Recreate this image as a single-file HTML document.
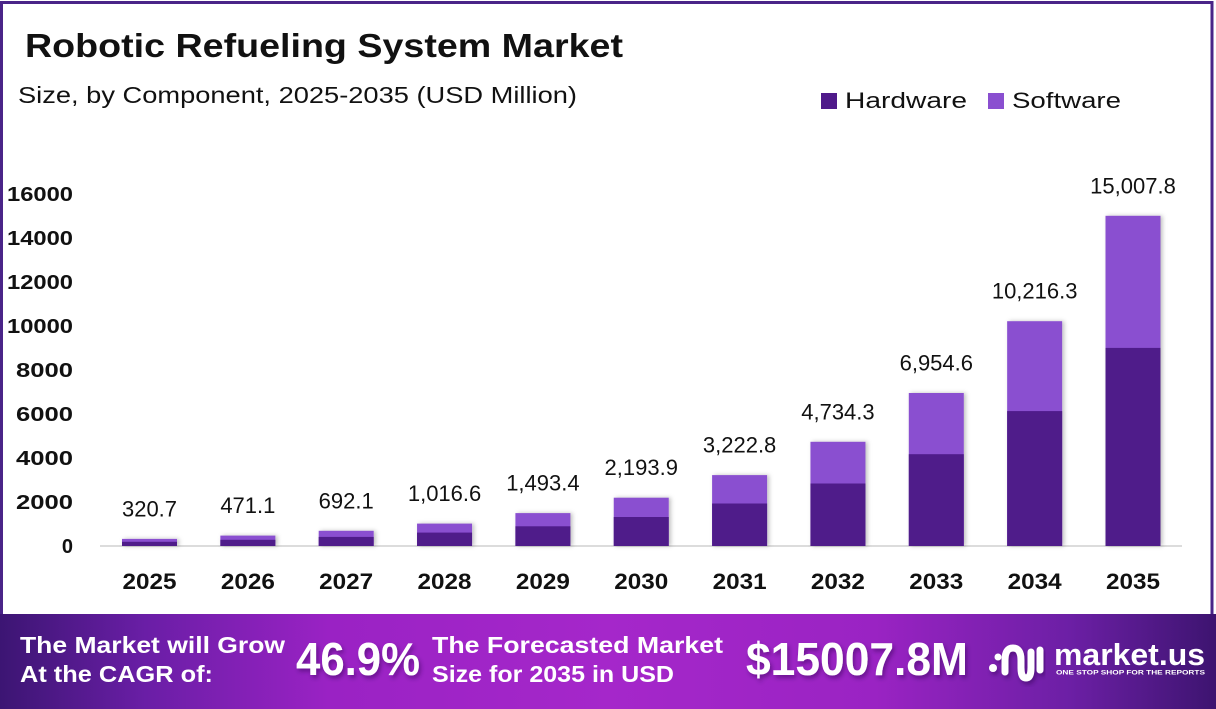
<!DOCTYPE html>
<html>
<head>
<meta charset="utf-8">
<style>
  html,body{margin:0;padding:0;background:#fff;}
  svg{display:block;}
  text{font-family:"Liberation Sans", Arial, sans-serif;}
</style>
</head>
<body>
<svg width="1216" height="709" viewBox="0 0 1216 709" xmlns="http://www.w3.org/2000/svg">
  <defs>
    <linearGradient id="bg" x1="0" y1="0" x2="1" y2="0">
      <stop offset="0" stop-color="#3c1573"/>
      <stop offset="0.12" stop-color="#6a1ea6"/>
      <stop offset="0.27" stop-color="#9a22c4"/>
      <stop offset="0.5" stop-color="#a527ca"/>
      <stop offset="0.72" stop-color="#9a23c3"/>
      <stop offset="0.88" stop-color="#6c1fa5"/>
      <stop offset="1" stop-color="#3d1470"/>
    </linearGradient>
    <filter id="sh" x="-20%" y="-5%" width="140%" height="110%">
      <feDropShadow dx="2" dy="0" stdDeviation="2" flood-color="#000" flood-opacity="0.25"/>
    </filter>
    <filter id="tsh" x="-10%" y="-20%" width="120%" height="150%">
      <feDropShadow dx="2" dy="3" stdDeviation="2" flood-color="#2a0550" flood-opacity="0.45"/>
    </filter>
  </defs>

  <rect x="0" y="0" width="1216" height="709" fill="#fff"/>
  <!-- border -->
  <rect x="1.5" y="2.5" width="1210.5" height="614" fill="none" stroke="#4a2488" stroke-width="3"/>

  <!-- title -->
  <text x="25" y="57" font-size="33" font-weight="bold" fill="#111" textLength="598" lengthAdjust="spacingAndGlyphs">Robotic Refueling System Market</text>
  <text x="18" y="103" font-size="23" fill="#111" textLength="559" lengthAdjust="spacingAndGlyphs">Size, by Component, 2025-2035 (USD Million)</text>

  <!-- legend -->
  <rect x="821" y="93" width="16" height="16" fill="#4f1a8a"/>
  <text x="845" y="108" font-size="22" fill="#111" textLength="122" lengthAdjust="spacingAndGlyphs">Hardware</text>
  <rect x="988" y="93" width="16" height="16" fill="#8a4fd0"/>
  <text x="1012" y="108" font-size="22" fill="#111" textLength="109" lengthAdjust="spacingAndGlyphs">Software</text>

  <!-- y axis labels -->
  <g font-size="20" font-weight="bold" fill="#111" text-anchor="end">
    <text x="73" y="201" textLength="66" lengthAdjust="spacingAndGlyphs">16000</text>
    <text x="73" y="245" textLength="66" lengthAdjust="spacingAndGlyphs">14000</text>
    <text x="73" y="289" textLength="66" lengthAdjust="spacingAndGlyphs">12000</text>
    <text x="73" y="333" textLength="66" lengthAdjust="spacingAndGlyphs">10000</text>
    <text x="73" y="377" textLength="57" lengthAdjust="spacingAndGlyphs">8000</text>
    <text x="73" y="421" textLength="57" lengthAdjust="spacingAndGlyphs">6000</text>
    <text x="73" y="465" textLength="57" lengthAdjust="spacingAndGlyphs">4000</text>
    <text x="73" y="509" textLength="57" lengthAdjust="spacingAndGlyphs">2000</text>
    <text x="73" y="553">0</text>
  </g>

  <!-- axis line -->
  <line x1="100" y1="546" x2="1182" y2="546" stroke="#d0d0d0" stroke-width="1.5"/>

  <!-- bars -->
  <g filter="url(#sh)">
    <rect x="122" y="538.9" width="55" height="7.1" fill="#8a4fd0"/>
    <rect x="122" y="541.8" width="55" height="4.2" fill="#4f1a8a"/>
    <rect x="220.35" y="535.6" width="55" height="10.4" fill="#8a4fd0"/>
    <rect x="220.35" y="539.8" width="55" height="6.2" fill="#4f1a8a"/>
    <rect x="318.7" y="530.8" width="55" height="15.2" fill="#8a4fd0"/>
    <rect x="318.7" y="536.9" width="55" height="9.1" fill="#4f1a8a"/>
    <rect x="417.05" y="523.6" width="55" height="22.4" fill="#8a4fd0"/>
    <rect x="417.05" y="532.6" width="55" height="13.4" fill="#4f1a8a"/>
    <rect x="515.4" y="513.1" width="55" height="32.9" fill="#8a4fd0"/>
    <rect x="515.4" y="526.3" width="55" height="19.7" fill="#4f1a8a"/>
    <rect x="613.75" y="497.7" width="55" height="48.3" fill="#8a4fd0"/>
    <rect x="613.75" y="517.0" width="55" height="29.0" fill="#4f1a8a"/>
    <rect x="712.1" y="475.1" width="55" height="70.9" fill="#8a4fd0"/>
    <rect x="712.1" y="503.5" width="55" height="42.5" fill="#4f1a8a"/>
    <rect x="810.45" y="441.8" width="55" height="104.2" fill="#8a4fd0"/>
    <rect x="810.45" y="483.5" width="55" height="62.5" fill="#4f1a8a"/>
    <rect x="908.8" y="393.0" width="55" height="153.0" fill="#8a4fd0"/>
    <rect x="908.8" y="454.2" width="55" height="91.8" fill="#4f1a8a"/>
    <rect x="1007.15" y="321.2" width="55" height="224.8" fill="#8a4fd0"/>
    <rect x="1007.15" y="411.1" width="55" height="134.9" fill="#4f1a8a"/>
    <rect x="1105.5" y="215.8" width="55" height="330.2" fill="#8a4fd0"/>
    <rect x="1105.5" y="347.9" width="55" height="198.1" fill="#4f1a8a"/>
  </g>

  <!-- value labels -->
  <g font-size="22" fill="#111" text-anchor="middle">
    <text x="149.5" y="516.5">320.7</text>
    <text x="247.85" y="513.1">471.1</text>
    <text x="346.2" y="508.3">692.1</text>
    <text x="444.55" y="501.1">1,016.6</text>
    <text x="542.9" y="490.6">1,493.4</text>
    <text x="641.25" y="475.2">2,193.9</text>
    <text x="739.6" y="452.6">3,222.8</text>
    <text x="837.95" y="419.3">4,734.3</text>
    <text x="936.3" y="370.5">6,954.6</text>
    <text x="1034.65" y="298.7">10,216.3</text>
    <text x="1133" y="193.3">15,007.8</text>
  </g>

  <!-- x labels -->
  <g font-size="22" font-weight="bold" fill="#111" text-anchor="middle">
    <text x="149.5" y="589" textLength="54" lengthAdjust="spacingAndGlyphs">2025</text>
    <text x="247.85" y="589" textLength="54" lengthAdjust="spacingAndGlyphs">2026</text>
    <text x="346.2" y="589" textLength="54" lengthAdjust="spacingAndGlyphs">2027</text>
    <text x="444.55" y="589" textLength="54" lengthAdjust="spacingAndGlyphs">2028</text>
    <text x="542.9" y="589" textLength="54" lengthAdjust="spacingAndGlyphs">2029</text>
    <text x="641.25" y="589" textLength="54" lengthAdjust="spacingAndGlyphs">2030</text>
    <text x="739.6" y="589" textLength="54" lengthAdjust="spacingAndGlyphs">2031</text>
    <text x="837.95" y="589" textLength="54" lengthAdjust="spacingAndGlyphs">2032</text>
    <text x="936.3" y="589" textLength="54" lengthAdjust="spacingAndGlyphs">2033</text>
    <text x="1034.65" y="589" textLength="54" lengthAdjust="spacingAndGlyphs">2034</text>
    <text x="1133" y="589" textLength="54" lengthAdjust="spacingAndGlyphs">2035</text>
  </g>

  <!-- banner -->
  <rect x="0" y="614" width="1216" height="95" fill="url(#bg)"/>
  <g fill="#fff" font-weight="bold">
    <text x="20" y="653" font-size="23" textLength="265" lengthAdjust="spacingAndGlyphs">The Market will Grow</text>
    <text x="20" y="682" font-size="23" textLength="193" lengthAdjust="spacingAndGlyphs">At the CAGR of:</text>
    <text x="296" y="675" font-size="46" textLength="124" lengthAdjust="spacingAndGlyphs" filter="url(#tsh)">46.9%</text>
    <text x="432" y="653" font-size="23" textLength="291" lengthAdjust="spacingAndGlyphs">The Forecasted Market</text>
    <text x="432" y="682" font-size="23" textLength="242" lengthAdjust="spacingAndGlyphs">Size for 2035 in USD</text>
    <text x="746" y="675" font-size="46" textLength="222" lengthAdjust="spacingAndGlyphs" filter="url(#tsh)">$15007.8M</text>
    <!-- logo icon -->
    <g filter="url(#tsh)">
      <circle cx="993" cy="668" r="4" fill="#fff"/>
      <circle cx="998" cy="657" r="3.5" fill="#fff"/>
      <path d="M1005 672 L1005 660 Q1005 648 1013 648 Q1021 648 1021 660 L1021 668 Q1021 678 1026 678 Q1031 678 1031 668 L1031 652" fill="none" stroke="#fff" stroke-width="7" stroke-linecap="round"/>
      <line x1="1040" y1="650" x2="1040" y2="670" stroke="#fff" stroke-width="7" stroke-linecap="round"/>
    </g>
    <text x="1054" y="665" font-size="31" textLength="151" lengthAdjust="spacingAndGlyphs">market.us</text>
    <text x="1056" y="674.5" font-size="6.5" textLength="149" lengthAdjust="spacingAndGlyphs">ONE STOP SHOP FOR THE REPORTS</text>
  </g>
</svg>
</body>
</html>
